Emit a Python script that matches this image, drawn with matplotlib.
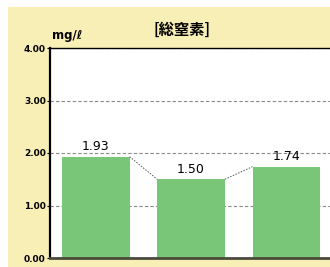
import matplotlib.pyplot as plt
from matplotlib.patches import Rectangle

plt.rcParams['font.family'] = ['Noto Sans CJK JP', 'DejaVu Sans']

sites = ['A', 'B', 'C']
values = [1.93, 1.50, 1.74]
yticks = [0.0, 1.0, 2.0, 3.0, 4.0]

fig = plt.figure(figsize=(3.3, 2.67), dpi=100)
fig.patch.set_facecolor('white')
# yellow panel behind the chart
fig.patches.append(Rectangle((8 / 330, 0), 1, 1 - 7 / 267, transform=fig.transFigure,
                             facecolor='#f8efb6', edgecolor='none', zorder=-5))

ax = fig.add_axes([50 / 330, 9 / 267, 284 / 330, 210 / 267])
ax.set_zorder(1)
ax.set_facecolor('white')

x = list(range(len(values)))
width = 0.71
ax.bar(x, values, width=width, color='#79c679', zorder=2)

# series lines between bar tops
for i in range(len(values) - 1):
    ax.plot([x[i] + width / 2, x[i + 1] - width / 2], [values[i], values[i + 1]],
            ls=(0, (1.5, 1.5)), color='#555555', lw=0.7, zorder=3)

for xi, v in zip(x, values):
    ax.text(xi, v + 0.07, f'{v:.2f}', ha='center', va='bottom', fontsize=9,
            family='DejaVu Sans', zorder=4)

ax.set_xlim(-0.48, 2.5)
ax.set_ylim(0, 4)
ax.set_yticks(yticks)
ax.set_yticklabels([f'{t:.2f}' for t in yticks], fontsize=6.5, fontweight='bold',
                   family='DejaVu Sans')
ax.set_xticks([])
ax.yaxis.grid(True, ls=(0, (3, 2)), color='#888888', lw=0.8)
ax.set_axisbelow(True)
ax.tick_params(axis='y', length=2, width=0.8, pad=1)

ax.spines['left'].set_linewidth(1.6)
ax.spines['bottom'].set_linewidth(2.0)
ax.spines['bottom'].set_color('#4a4a3a')
ax.spines['top'].set_linewidth(1.0)
ax.spines['right'].set_visible(False)

fig.text(182 / 330, 1 - 30 / 267, '[総窒素]', ha='center', va='center',
         fontsize=11, fontweight='bold')
fig.text(52 / 330, 1 - 36 / 267, 'mg/ℓ', ha='left', va='center', fontsize=8.5,
         fontweight='bold', family=['DejaVu Sans'])

fig.savefig('out.png', dpi=100)
